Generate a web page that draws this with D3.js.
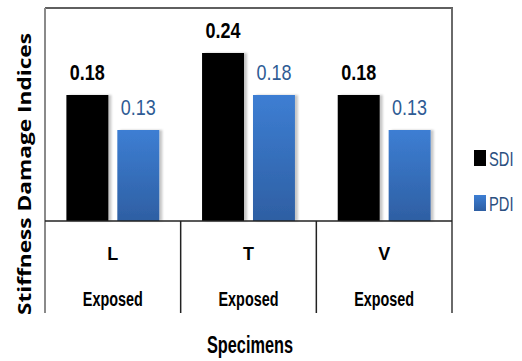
<!DOCTYPE html>
<html>
<head>
<meta charset="utf-8">
<script src="https://cdn.jsdelivr.net/npm/d3@7"></script>
<style>
  html, body { margin: 0; padding: 0; background: #fff; }
  svg { display: block; }
  text { font-family: "Liberation Sans Narrow", "Arial Narrow", "Liberation Sans", sans-serif; }
</style>
</head>
<body>
<svg id="chart" width="522" height="361"></svg>
<script>
// Stiffness damage indices per specimen
const categories = ["L", "T", "V"];
const subLabels = ["Exposed", "Exposed", "Exposed"];
const seriesNames = ["SDI", "PDI"];
const sdiValues = [0.18, 0.24, 0.18];
const pdiValues = [0.13, 0.18, 0.13];
const valueLabels = [["0.18", "0.13"], ["0.24", "0.18"], ["0.18", "0.13"]];

const svg = d3.select("#chart");

const plot = { left: 45, right: 452, top: 8, base: 221, bottom: 313 };

const x0 = d3.scaleBand().domain(categories).range([plot.left, plot.right]).padding(0);
const x1 = d3.scaleBand().domain(seriesNames).range([0, x0.bandwidth()])
  .paddingInner(0.176).paddingOuter(0.42);
const y = d3.scaleLinear().domain([0, 0.30]).range([plot.base, plot.base - 210]);

const defs = svg.append("defs");
const grad = defs.append("linearGradient").attr("id", "pdiGrad")
  .attr("x1", 0).attr("y1", 0).attr("x2", 0).attr("y2", 1);
grad.append("stop").attr("offset", "0%").attr("stop-color", "#3d7ed3");
grad.append("stop").attr("offset", "100%").attr("stop-color", "#2e5fa3");

const shadow = defs.append("filter").attr("id", "barShadow")
  .attr("x", "-20%").attr("y", "-5%").attr("width", "150%").attr("height", "110%");
shadow.append("feDropShadow").attr("dx", 3).attr("dy", 0).attr("stdDeviation", 1.2)
  .attr("flood-color", "#000").attr("flood-opacity", 0.22);

const fills = { SDI: "#000000", PDI: "url(#pdiGrad)" };
const labelStyle = {
  SDI: { fill: "#000", weight: "bold" },
  PDI: { fill: "#2e5b94", weight: "normal" }
};

const rows = categories.map((c, i) => ({
  cat: c,
  bars: [
    { s: "SDI", v: sdiValues[i], label: valueLabels[i][0] },
    { s: "PDI", v: pdiValues[i], label: valueLabels[i][1] }
  ]
}));

// bars
const groups = svg.append("g").selectAll("g").data(rows).join("g")
  .attr("transform", d => `translate(${x0(d.cat)},0)`);

groups.selectAll("rect").data(d => d.bars).join("rect")
  .attr("x", d => x1(d.s))
  .attr("y", d => y(d.v))
  .attr("width", x1.bandwidth())
  .attr("height", d => y(0) - y(d.v))
  .attr("fill", d => fills[d.s])
  .attr("filter", "url(#barShadow)");

// value labels (condensed to the narrow face)
groups.selectAll("text.val").data(d => d.bars).join("text")
  .attr("class", "val")
  .attr("x", d => x1(d.s) + x1.bandwidth() / 2)
  .attr("y", d => y(d.v) - 15)
  .attr("text-anchor", "middle")
  .attr("font-size", 22)
  .attr("font-weight", d => labelStyle[d.s].weight)
  .attr("fill", d => labelStyle[d.s].fill)
  .attr("textLength", 35).attr("lengthAdjust", "spacingAndGlyphs")
  .text(d => d.label);

// frame
const frame = svg.append("g").attr("fill", "none");
frame.append("line").attr("x1", plot.left).attr("x2", plot.right + 1)
  .attr("y1", plot.top).attr("y2", plot.top)
  .attr("stroke", "#5f5f5f").attr("stroke-width", 2);
frame.append("line").attr("x1", plot.right).attr("x2", plot.right)
  .attr("y1", plot.top).attr("y2", plot.bottom)
  .attr("stroke", "#6a6a6a").attr("stroke-width", 2);
frame.append("line").attr("x1", plot.left).attr("x2", plot.left)
  .attr("y1", plot.top).attr("y2", plot.bottom)
  .attr("stroke", "#8a8a8a").attr("stroke-width", 2);
frame.append("line").attr("x1", plot.left).attr("x2", plot.right)
  .attr("y1", plot.base).attr("y2", plot.base)
  .attr("stroke", "#222").attr("stroke-width", 1.5);

// category dividers below the baseline
svg.append("g").selectAll("line").data(categories.slice(1)).join("line")
  .attr("x1", d => x0(d)).attr("x2", d => x0(d))
  .attr("y1", plot.base).attr("y2", plot.bottom)
  .attr("stroke", "#222").attr("stroke-width", 1.5);

// category labels
const catG = svg.append("g").attr("text-anchor", "middle").attr("font-weight", "bold").attr("fill", "#000");
catG.selectAll("text.cat").data(categories).join("text")
  .attr("class", "cat")
  .attr("x", d => x0(d) + x0.bandwidth() / 2)
  .attr("y", 260)
  .attr("font-size", 18)
  .text(d => d);
catG.selectAll("text.sub").data(categories).join("text")
  .attr("class", "sub")
  .attr("x", d => x0(d) + x0.bandwidth() / 2)
  .attr("y", 306)
  .attr("font-size", 20)
  .attr("textLength", 60).attr("lengthAdjust", "spacingAndGlyphs")
  .text((d, i) => subLabels[i]);

// axis titles
svg.append("text")
  .attr("x", 250).attr("y", 353)
  .attr("text-anchor", "middle")
  .attr("font-size", 23).attr("font-weight", "bold")
  .attr("textLength", 86).attr("lengthAdjust", "spacingAndGlyphs")
  .text("Specimens");

svg.append("text")
  .attr("transform", "translate(31,174) rotate(-90)")
  .attr("text-anchor", "middle")
  .style("font-family", "'Open Sans', 'DejaVu Sans', sans-serif")
  .attr("font-size", 17).attr("font-weight", "bold")
  .attr("textLength", 282).attr("lengthAdjust", "spacingAndGlyphs")
  .text("Stiffness Damage Indices");

// legend
const legend = svg.append("g");
const legendItems = [
  { s: "SDI", y: 150 },
  { s: "PDI", y: 195 }
];
legend.selectAll("rect").data(legendItems).join("rect")
  .attr("x", 474).attr("y", d => d.y)
  .attr("width", 12).attr("height", 16)
  .attr("fill", d => fills[d.s]);
// legend text, horizontally condensed
legend.selectAll("text").data(legendItems).join("text")
  .attr("transform", d => `translate(489,${d.y + 16}) scale(0.7,1)`)
  .attr("font-size", 21)
  .attr("fill", "#2b4f80")
  .text(d => d.s);
</script>
</body>
</html>
